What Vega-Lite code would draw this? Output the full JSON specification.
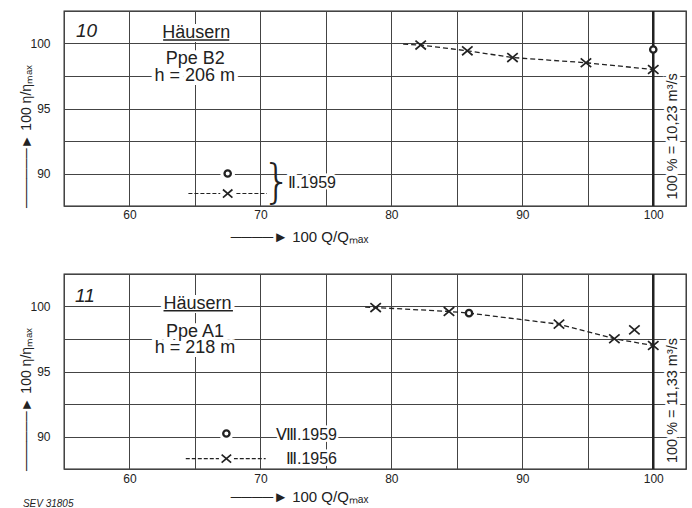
{
  "$schema": "https://vega.github.io/schema/vega-lite/v6.json",
  "padding": {"left": 18, "top": 9, "right": 0, "bottom": 0},
  "background": "white",
  "spacing": 27,
  "config": {
    "font": "Liberation Sans",
    "view": {"stroke": "#222", "strokeWidth": 1.3},
    "axis": {"grid": true, "gridColor": "#444", "gridWidth": 1, "ticks": false, "domain": false,
      "labelFont": "Liberation Sans", "labelFontSize": 12, "labelColor": "#222",
      "titleFont": "Liberation Sans", "titleFontWeight": "normal", "titleFontSize": 14, "titleColor": "#222"}
  },
  "vconcat": [
    {
      "width": 622, "height": 195,
      "encoding": {
        "x": {"field": "q", "type": "quantitative", "scale": {"domain": [55, 102.5], "nice": false, "zero": false},
          "axis": {"title": "────► 100 Q/Qₘₐₓ", "titleFontSize": 15, "values": [55,60,65,70,75,80,85,90,95,100], "labelExpr": "datum.value % 10 === 0 ? datum.label : ''", "labelPadding": 3, "titleX": 235, "titleY": 35, "titleAlign": "center", "titleBaseline": "alphabetic"}},
        "y": {"field": "eta", "type": "quantitative", "scale": {"domain": [87.5, 102.5], "nice": false, "zero": false},
          "axis": {"title": "──────► 100 η/ηₘₐₓ", "values": [87.5,90,92.5,95,97.5,100,102.5], "labelExpr": "datum.value % 5 === 0 ? datum.label : ''", "labelPadding": 14, "titleX": -34, "titleY": 125, "titleAngle": 270, "titleAlign": "center", "titleBaseline": "alphabetic"}}
      },
      "layer": [
        {"data": {"values": [{"q": 100, "eta": 87.5, "eta2": 102.5}]}, "mark": {"type": "rule", "color": "#222", "strokeWidth": 2.5}, "encoding": {"y2": {"field": "eta2"}}},
        {"data": {"values": [{"q": 80.9, "eta": 99.95}, {"q": 82.24, "eta": 99.88}, {"q": 85.8, "eta": 99.44}, {"q": 89.25, "eta": 98.92}, {"q": 94.86, "eta": 98.52}, {"q": 100.0, "eta": 98.0}]},
          "mark": {"type": "line", "color": "#222", "strokeWidth": 1.3, "strokeDash": [5, 3]}},
        {"data": {"values": [{"q": 82.24, "eta": 99.88}, {"q": 85.8, "eta": 99.44}, {"q": 89.25, "eta": 98.92}, {"q": 94.86, "eta": 98.52}, {"q": 100.0, "eta": 98.0}]},
          "mark": {"type": "point", "shape": "M-1,-0.85L1,0.85M-1,0.85L1,-0.85", "filled": false, "stroke": "#222", "strokeWidth": 1.7, "size": 110, "opacity": 1}},
        {"data": {"values": [{"q": 100.0, "eta": 99.54}]},
          "mark": {"type": "point", "shape": "circle", "filled": true, "fill": "white", "stroke": "#222", "strokeWidth": 2.3, "size": 40, "opacity": 1}},
        {"data": {"values": [{"q": 64.5, "q2": 70.5, "eta": 88.46}]}, "mark": {"type": "rule", "color": "#222", "strokeWidth": 1.1, "strokeDash": [4, 2]}, "encoding": {"x2": {"field": "q2"}}},
        {"data": {"values": [{"q": 67.5, "eta": 90.0}, {"q": 67.5, "eta": 88.46}]},
          "mark": {"type": "point", "shape": "circle", "filled": true, "fill": "white", "strokeWidth": 0, "size": 220, "opacity": 1}},
        {"data": {"values": [{"q": 67.5, "eta": 90.0}]},
          "mark": {"type": "point", "shape": "circle", "filled": false, "stroke": "#222", "strokeWidth": 2.3, "size": 40, "opacity": 1}},
        {"data": {"values": [{"q": 67.5, "eta": 88.46}]},
          "mark": {"type": "point", "shape": "M-1,-0.85L1,0.85M-1,0.85L1,-0.85", "filled": false, "stroke": "#222", "strokeWidth": 1.7, "size": 90, "opacity": 1}},
        {"data": {"values": [{"q": 55.92, "eta": 100.52, "t": "10"}]}, "encoding": {"text": {"field": "t"}},
          "layer": [
            {"mark": {"type": "text", "align": "left", "baseline": "alphabetic", "fontSize": 19, "fontStyle": "italic", "stroke": "white", "strokeWidth": 6}},
            {"mark": {"type": "text", "align": "left", "baseline": "alphabetic", "fontSize": 19, "fontStyle": "italic", "fill": "#222"}}
          ]},
        {"data": {"values": [{"q": 65.1, "eta": 100.44, "t": "Häusern"}, {"q": 65.02, "eta": 98.46, "t": "Ppe B2"}, {"q": 64.98, "eta": 97.11, "t": "h = 206 m"}]}, "encoding": {"text": {"field": "t"}},
          "layer": [
            {"mark": {"type": "text", "align": "center", "baseline": "alphabetic", "fontSize": 18, "stroke": "white", "strokeWidth": 8}},
            {"mark": {"type": "text", "align": "center", "baseline": "alphabetic", "fontSize": 18, "fill": "#222"}}
          ]},
        {"data": {"values": [{"q": 62.57, "q2": 67.62, "eta": 100.26}]}, "mark": {"type": "rule", "color": "#222", "strokeWidth": 1.5}, "encoding": {"x2": {"field": "q2"}}},
        {"data": {"values": [{"q": 71.25, "eta": 89.3, "t": "}"}]}, "encoding": {"text": {"field": "t"}},
          "mark": {"type": "text", "align": "center", "baseline": "middle", "fontSize": 46, "font": "DejaVu Sans", "fontWeight": 200, "fill": "#222"}},
        {"data": {"values": [{"q": 72.1, "eta": 88.85, "t": "Ⅱ.1959"}]}, "encoding": {"text": {"field": "t"}},
          "layer": [
            {"mark": {"type": "text", "align": "left", "baseline": "alphabetic", "fontSize": 16, "stroke": "white", "strokeWidth": 5}},
            {"mark": {"type": "text", "align": "left", "baseline": "alphabetic", "fontSize": 16, "fill": "#222"}}
          ]},
        {"data": {"values": [{"q": 101.5, "eta": 92.86, "t": "100 % = 10,23 m³/s"}]}, "encoding": {"text": {"field": "t"}},
          "layer": [
            {"mark": {"type": "text", "align": "center", "baseline": "middle", "angle": 270, "fontSize": 14.5, "stroke": "white", "strokeWidth": 6}},
            {"mark": {"type": "text", "align": "center", "baseline": "middle", "angle": 270, "fontSize": 14.5, "fill": "#222"}}
          ]}
      ]
    },
    {
      "width": 622, "height": 195,
      "encoding": {
        "x": {"field": "q", "type": "quantitative", "scale": {"domain": [55, 102.5], "nice": false, "zero": false},
          "axis": {"title": "────► 100 Q/Qₘₐₓ", "titleFontSize": 15, "values": [55,60,65,70,75,80,85,90,95,100], "labelExpr": "datum.value % 10 === 0 ? datum.label : ''", "labelPadding": 4, "titleX": 235, "titleY": 32, "titleAlign": "center", "titleBaseline": "alphabetic"}},
        "y": {"field": "eta", "type": "quantitative", "scale": {"domain": [87.5, 102.5], "nice": false, "zero": false},
          "axis": {"title": "──────► 100 η/ηₘₐₓ", "values": [87.5,90,92.5,95,97.5,100,102.5], "labelExpr": "datum.value % 5 === 0 ? datum.label : ''", "labelPadding": 14, "titleX": -34, "titleY": 125, "titleAngle": 270, "titleAlign": "center", "titleBaseline": "alphabetic"}}
      },
      "layer": [
        {"data": {"values": [{"q": 100, "eta": 87.5, "eta2": 102.5}]}, "mark": {"type": "rule", "color": "#222", "strokeWidth": 2.5}, "encoding": {"y2": {"field": "eta2"}}},
        {"data": {"values": [{"q": 78.0, "eta": 99.95}, {"q": 78.8, "eta": 99.92}, {"q": 84.4, "eta": 99.62}, {"q": 85.93, "eta": 99.49}, {"q": 92.8, "eta": 98.64}, {"q": 97.03, "eta": 97.52}, {"q": 100.0, "eta": 97.0}]},
          "mark": {"type": "line", "color": "#222", "strokeWidth": 1.3, "strokeDash": [5, 3]}},
        {"data": {"values": [{"q": 78.8, "eta": 99.92}, {"q": 84.4, "eta": 99.62}, {"q": 92.8, "eta": 98.64}, {"q": 97.03, "eta": 97.52}, {"q": 98.56, "eta": 98.2}, {"q": 100.0, "eta": 97.0}]},
          "mark": {"type": "point", "shape": "M-1,-0.85L1,0.85M-1,0.85L1,-0.85", "filled": false, "stroke": "#222", "strokeWidth": 1.7, "size": 110, "opacity": 1}},
        {"data": {"values": [{"q": 85.93, "eta": 99.49}]},
          "mark": {"type": "point", "shape": "circle", "filled": true, "fill": "white", "stroke": "#222", "strokeWidth": 2.3, "size": 40, "opacity": 1}},
        {"data": {"values": [{"q": 64.3, "q2": 70.4, "eta": 88.3}]}, "mark": {"type": "rule", "color": "#222", "strokeWidth": 1.1, "strokeDash": [4, 2]}, "encoding": {"x2": {"field": "q2"}}},
        {"data": {"values": [{"q": 67.4, "eta": 90.23}, {"q": 67.4, "eta": 88.3}]},
          "mark": {"type": "point", "shape": "circle", "filled": true, "fill": "white", "strokeWidth": 0, "size": 220, "opacity": 1}},
        {"data": {"values": [{"q": 67.4, "eta": 90.23}]},
          "mark": {"type": "point", "shape": "circle", "filled": false, "stroke": "#222", "strokeWidth": 2.3, "size": 40, "opacity": 1}},
        {"data": {"values": [{"q": 67.4, "eta": 88.3}]},
          "mark": {"type": "point", "shape": "M-1,-0.85L1,0.85M-1,0.85L1,-0.85", "filled": false, "stroke": "#222", "strokeWidth": 1.7, "size": 90, "opacity": 1}},
        {"data": {"values": [{"q": 55.84, "eta": 100.38, "t": "11"}]}, "encoding": {"text": {"field": "t"}},
          "layer": [
            {"mark": {"type": "text", "align": "left", "baseline": "alphabetic", "fontSize": 19, "fontStyle": "italic", "stroke": "white", "strokeWidth": 6}},
            {"mark": {"type": "text", "align": "left", "baseline": "alphabetic", "fontSize": 19, "fontStyle": "italic", "fill": "#222"}}
          ]},
        {"data": {"values": [{"q": 65.2, "eta": 99.82, "t": "Häusern"}, {"q": 65.0, "eta": 97.69, "t": "Ppe A1"}, {"q": 65.0, "eta": 96.41, "t": "h = 218 m"}]}, "encoding": {"text": {"field": "t"}},
          "layer": [
            {"mark": {"type": "text", "align": "center", "baseline": "alphabetic", "fontSize": 18, "stroke": "white", "strokeWidth": 8}},
            {"mark": {"type": "text", "align": "center", "baseline": "alphabetic", "fontSize": 18, "fill": "#222"}}
          ]},
        {"data": {"values": [{"q": 62.6, "q2": 67.9, "eta": 99.67}]}, "mark": {"type": "rule", "color": "#222", "strokeWidth": 1.5}, "encoding": {"x2": {"field": "q2"}}},
        {"data": {"values": [{"q": 75.85, "eta": 89.75, "t": "Ⅷ.1959"}, {"q": 75.85, "eta": 87.88, "t": "Ⅲ.1956"}]}, "encoding": {"text": {"field": "t"}},
          "layer": [
            {"mark": {"type": "text", "align": "right", "baseline": "alphabetic", "fontSize": 16, "stroke": "white", "strokeWidth": 5}},
            {"mark": {"type": "text", "align": "right", "baseline": "alphabetic", "fontSize": 16, "fill": "#222"}}
          ]},
        {"data": {"values": [{"q": 101.5, "eta": 92.77, "t": "100 % = 11,33 m³/s"}]}, "encoding": {"text": {"field": "t"}},
          "layer": [
            {"mark": {"type": "text", "align": "center", "baseline": "middle", "angle": 270, "fontSize": 14.5, "stroke": "white", "strokeWidth": 6}},
            {"mark": {"type": "text", "align": "center", "baseline": "middle", "angle": 270, "fontSize": 14.5, "fill": "#222"}}
          ]},
        {"data": {"values": [{"q": 51.86, "eta": 84.8, "t": "SEV 31805"}]}, "encoding": {"text": {"field": "t"}},
          "mark": {"type": "text", "align": "left", "baseline": "middle", "fontSize": 10, "fontStyle": "italic", "fill": "#222"}}
      ]
    }
  ]
}
